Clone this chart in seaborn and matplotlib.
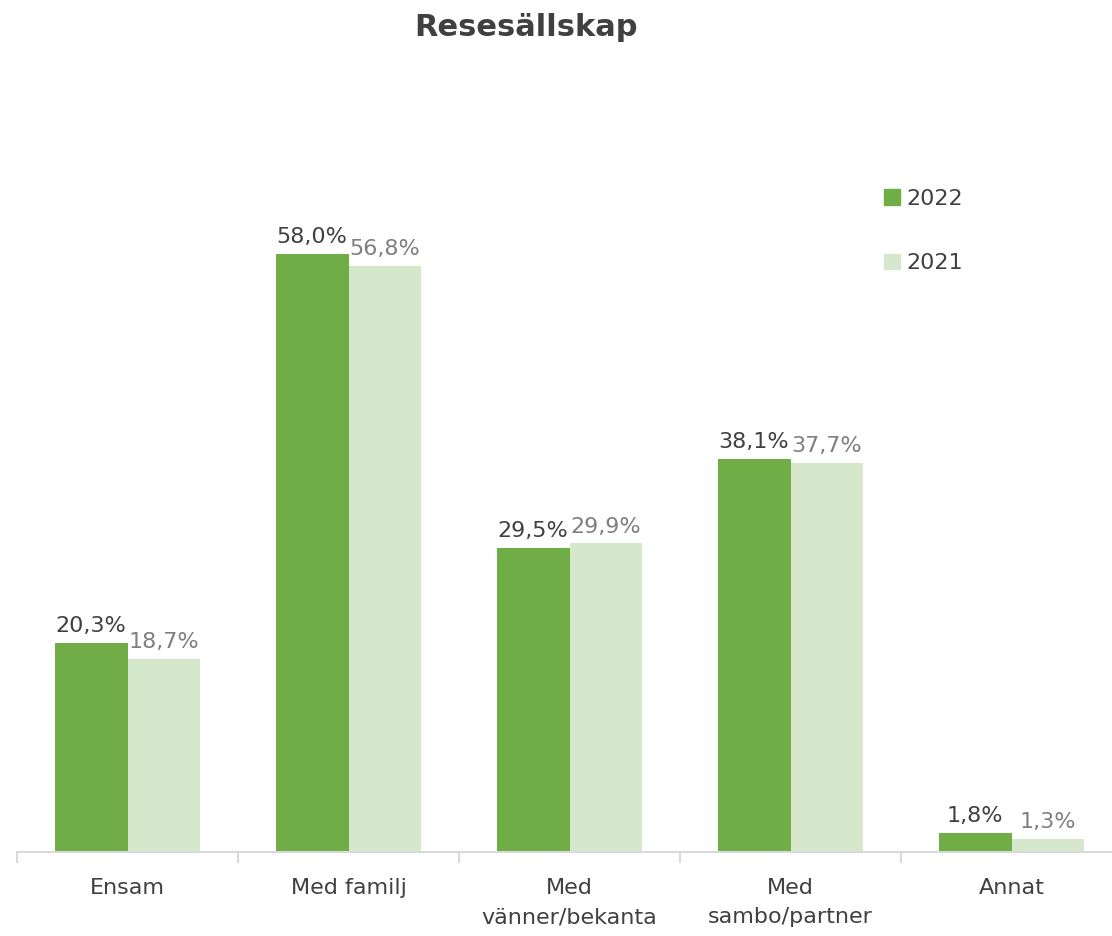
import matplotlib
matplotlib.use("Agg")
import matplotlib.pyplot as plt
import pandas as pd
import seaborn as sns

categories = ["Ensam", "Med familj", "Med\nvänner/bekanta", "Med\nsambo/partner", "Annat"]
years = ["2022", "2021"]
values_2022 = [20.3, 58.0, 29.5, 38.1, 1.8]
values_2021 = [18.7, 56.8, 29.9, 37.7, 1.3]
colors = ["#70AD47", "#D5E8CB"]
label_colors = ["#404040", "#7F7F7F"]

df = pd.DataFrame({
    "kategori": categories * 2,
    "år": [years[0]] * 5 + [years[1]] * 5,
    "andel": values_2022 + values_2021,
})

sns.set_style("white")
plt.rcParams["font.family"] = ["DejaVu Sans"]

fig = plt.figure(figsize=(11.12, 9.36), dpi=100)
# axes run a bit past the right edge, like the original
ax = fig.add_axes([17 / 1112, 84 / 936, 1105 / 1112, 712 / 936])

sns.barplot(data=df, x="kategori", y="andel", hue="år", palette=colors,
            saturation=1, width=0.66, linewidth=0, ax=ax, legend=False)

for cont, col in zip(ax.containers, label_colors):
    ax.bar_label(cont, labels=[f"{v:.1f}%".replace(".", ",") for v in cont.datavalues],
                 padding=5, fontsize=16, color=col)

ax.set_xlim(-0.5, 4.5)
ax.set_ylim(0, 69)
ax.set_xlabel("")
ax.set_ylabel("")
ax.set_yticks([])
for s in ["top", "right", "left"]:
    ax.spines[s].set_visible(False)
ax.spines["bottom"].set_color("#D9D9D9")
ax.spines["bottom"].set_linewidth(1.5)

ax.set_xticks(range(len(categories)))
ax.set_xticklabels(categories, fontsize=16, color="#404040", linespacing=1.55)
ax.tick_params(axis="x", which="major", length=0, pad=19)
ax.set_xticks([i - 0.5 for i in range(len(categories) + 1)], minor=True)
ax.tick_params(axis="x", which="minor", length=8, width=1.5, color="#D9D9D9",
               direction="out")
ax.xaxis.set_ticks_position("bottom")

handles = [plt.Rectangle((0, 0), 1, 1, color=c) for c in colors]
fig.legend(handles, years, loc="upper left", bbox_to_anchor=(864 / 1112, 1 - 169 / 936),
           frameon=False, fontsize=16, labelcolor="#404040", handlelength=0.7,
           handleheight=0.7, handletextpad=0.3, labelspacing=2.0)

fig.text(0.473, 1 - 27 / 936, "Resesällskap", ha="center", va="center",
         fontsize=22, fontweight="bold", color="#404040")

fig.savefig("out.png", dpi=100)
